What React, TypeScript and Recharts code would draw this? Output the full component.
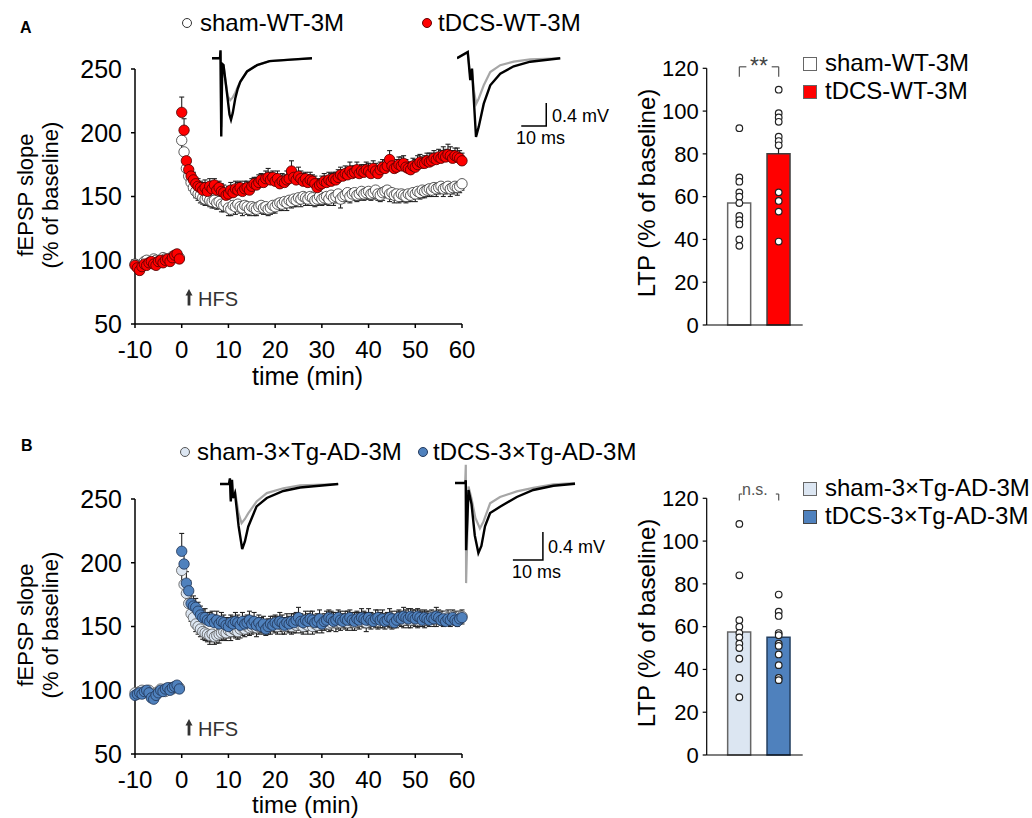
import React from "react";
import {
  Bar, Cell, ComposedChart, ErrorBar, Line, LineChart, ReferenceLine, Scatter, ScatterChart, XAxis, YAxis,
} from "recharts";

const FONT = '"Liberation Sans", Arial, Helvetica, sans-serif';

// sampling grid of the time course: baseline -10..-0.5 min, post-HFS 0..60 min, every 30 s
const BASE_START = -10;
const STEP = 0.5;
const TIME_TICKS = [-10, 0, 10, 20, 30, 40, 50, 60];
const FEPSP_TICKS = [50, 100, 150, 200, 250];
const LTP_TICKS = [0, 20, 40, 60, 80, 100, 120];

// ---- panel A time course (fEPSP slope, % of baseline) ----
const SHAM_WT_BASE = [97, 96, 95, 97, 99, 100, 98, 99, 101, 100, 99, 100, 102, 101, 100, 101, 103, 102, 104, 102];
const SHAM_WT_POST = [
  194, 185, 172, 166, 161, 157, 154, 152, 151, 149,
  148, 149, 147, 146, 147, 145, 146, 144, 143, 145,
  141, 140, 143, 142, 144, 142, 141, 143, 142, 140,
  142, 141, 140, 142, 143, 141, 142, 140, 141, 143,
  142, 144, 145, 144, 146, 145, 147, 146, 148, 147,
  149, 148, 150, 149, 148, 150, 149, 147, 148, 150,
  148, 149, 150, 148, 151, 149, 150, 152, 148, 150,
  151, 153, 150, 152, 153, 151, 152, 154, 152, 153,
  154, 152, 153, 155, 152, 151, 153, 154, 155, 152,
  153, 151, 152, 150, 152, 151, 150, 152, 151, 153,
  152, 154, 153, 155, 154, 155, 156, 155, 157, 156,
  157, 158, 156, 157, 158, 156, 157, 158, 157, 158,
  160,
];
const SHAM_WT_BASE_ERR = [3, 2, 3, 2, 2, 3, 2, 3, 2, 3, 2, 3, 2, 2, 3, 2, 3, 2, 3, 2];
const SHAM_WT_POST_ERR = [
  9, 8, 7, 6, 6, 5, 5, 5, 6, 5,
  5, 6, 5, 5, 6, 5, 5, 6, 5, 5,
  6, 5, 5, 6, 5, 5, 6, 5, 6, 5,
  5, 6, 5, 5, 6, 5, 6, 5, 5, 6,
  5, 5, 6, 5, 5, 6, 5, 5, 6, 5,
  5, 6, 5, 6, 5, 5, 6, 5, 5, 6,
  5, 5, 6, 5, 5, 6, 5, 5, 7, 5,
  5, 6, 5, 5, 6, 5, 5, 6, 5, 5,
  6, 5, 5, 6, 5, 5, 6, 5, 5, 6,
  5, 6, 5, 5, 6, 5, 5, 6, 5, 5,
  6, 5, 5, 6, 5, 5, 6, 5, 5, 6,
  5, 5, 6, 5, 5, 6, 5, 5, 6, 5,
  5,
];

const TDCS_WT_BASE = [96, 94, 92, 95, 97, 96, 98, 99, 97, 96, 99, 100, 98, 100, 101, 99, 102, 104, 105, 101];
const TDCS_WT_POST = [
  216, 202, 178, 171, 166, 163, 160, 158, 157, 155,
  157, 154, 158, 156, 159, 155, 157, 154, 153, 151,
  152, 155, 153, 156, 155, 157, 154, 156, 157, 155,
  158, 160, 159, 161, 163, 161, 164, 165, 163, 165,
  162, 164, 160, 162, 161, 163, 164, 170, 165, 163,
  166, 164, 162, 164, 161, 163, 162, 160, 157, 159,
  160, 162, 161, 163, 162, 164, 163, 165, 167, 166,
  168, 167, 170, 168, 169, 171, 168, 170, 169, 171,
  170, 168, 172, 170, 168, 171, 173, 172, 174, 179,
  174, 172, 173, 175, 174, 176, 173, 172, 171, 174,
  173, 175, 177, 176, 176, 178, 177, 178, 180, 179,
  181, 180, 182, 181, 183, 182, 180, 182, 181, 180,
  178,
];
const TDCS_WT_BASE_ERR = [3, 3, 2, 3, 2, 3, 2, 3, 3, 2, 3, 2, 3, 2, 3, 3, 2, 3, 3, 2];
const TDCS_WT_POST_ERR = [
  12, 9, 7, 6, 6, 6, 5, 6, 5, 6,
  6, 5, 6, 6, 5, 6, 5, 6, 6, 5,
  6, 6, 5, 6, 6, 5, 6, 6, 5, 6,
  6, 5, 6, 6, 5, 6, 6, 7, 6, 5,
  6, 6, 5, 6, 6, 7, 6, 8, 5, 6,
  7, 6, 6, 5, 6, 6, 5, 6, 6, 5,
  6, 6, 5, 6, 6, 5, 6, 6, 6, 5,
  6, 6, 7, 6, 5, 6, 6, 5, 6, 6,
  6, 5, 6, 6, 5, 6, 6, 6, 5, 7,
  6, 5, 6, 6, 7, 6, 6, 5, 6, 6,
  6, 7, 6, 5, 6, 6, 7, 6, 6, 5,
  6, 6, 7, 6, 8, 7, 6, 6, 7, 6,
  6,
];

// ---- panel B time course ----
const SHAM_TG_BASE = [98, 97, 99, 100, 98, 99, 100, 97, 96, 98, 99, 101, 100, 99, 101, 102, 101, 102, 103, 102];
const SHAM_TG_POST = [
  194, 183, 176, 168, 160, 157, 152, 150, 148, 146,
  145, 144, 143, 144, 142, 143, 144, 145, 146, 145,
  147, 146, 148, 147, 146, 148, 149, 148, 150, 149,
  150, 151, 149, 150, 151, 150, 149, 151, 150, 152,
  151, 150, 152, 151, 150, 152, 151, 150, 152, 151,
  153, 151, 150, 152, 151, 153, 150, 152, 151, 153,
  152, 153, 154, 152, 153, 155, 153, 154, 153, 155,
  154, 153, 155, 154, 153, 155, 154, 156, 155, 153,
  155, 154, 156, 155, 154, 156, 155, 154, 156, 155,
  154, 156, 155, 157, 156, 155, 157, 156, 155, 157,
  156, 155, 157, 156, 155, 157, 156, 158, 157, 156,
  158, 157, 156, 158, 157, 156, 158, 157, 156, 158,
  158,
];
const SHAM_TG_BASE_ERR = [3, 2, 3, 3, 2, 3, 2, 3, 3, 2, 3, 2, 3, 3, 2, 3, 2, 3, 2, 2];
const SHAM_TG_POST_ERR = [
  10, 8, 7, 7, 6, 6, 6, 6, 6, 6,
  6, 6, 7, 6, 6, 6, 7, 6, 6, 6,
  6, 7, 6, 6, 6, 7, 6, 6, 6, 6,
  6, 6, 7, 6, 6, 6, 6, 7, 6, 6,
  6, 6, 6, 7, 6, 6, 6, 6, 7, 6,
  6, 6, 6, 6, 7, 6, 6, 6, 6, 6,
  7, 6, 6, 6, 6, 6, 7, 6, 6, 6,
  6, 6, 6, 7, 6, 6, 6, 6, 6, 7,
  6, 6, 6, 6, 6, 7, 6, 6, 6, 6,
  6, 7, 6, 6, 6, 6, 6, 7, 6, 6,
  6, 6, 7, 6, 6, 6, 6, 6, 7, 6,
  6, 6, 6, 7, 6, 6, 6, 6, 6, 6,
  6,
];

const TDCS_TG_BASE = [96, 97, 98, 97, 99, 100, 98, 94, 93, 96, 98, 100, 99, 101, 102, 100, 102, 103, 104, 101];
const TDCS_TG_POST = [
  209, 199, 184, 178, 168, 166, 165, 162, 159, 157,
  157, 155, 154, 156, 153, 155, 152, 154, 153, 151,
  150, 153, 152, 154, 153, 151, 154, 152, 153, 155,
  152, 154, 151, 153, 150, 152, 148, 150, 152, 151,
  153, 152, 154, 153, 151, 153, 152, 154, 153, 155,
  157, 154, 153, 155, 154, 156, 155, 153, 154, 156,
  152, 154, 155, 157, 156, 154, 155, 157, 155, 154,
  156, 155, 157, 155, 154, 156, 155, 157, 156, 155,
  157, 155, 154, 156, 157, 155, 156, 154, 155, 157,
  156, 153, 155, 157, 156, 158, 157, 156, 158, 157,
  156, 158, 157, 155, 157, 156, 155, 157, 156, 158,
  157, 155, 156, 154, 156, 155, 157, 155, 154, 156,
  157,
];
const TDCS_TG_BASE_ERR = [3, 3, 2, 3, 3, 2, 3, 3, 2, 3, 2, 3, 3, 2, 3, 2, 3, 3, 2, 3];
const TDCS_TG_POST_ERR = [
  14, 10, 9, 8, 9, 8, 7, 7, 7, 6,
  7, 6, 7, 6, 6, 7, 6, 7, 6, 6,
  7, 6, 6, 7, 6, 6, 7, 6, 6, 7,
  6, 7, 6, 6, 7, 6, 7, 6, 6, 7,
  6, 6, 7, 6, 6, 7, 6, 6, 7, 6,
  8, 6, 6, 7, 6, 6, 7, 6, 6, 7,
  6, 6, 7, 6, 6, 7, 6, 6, 7, 6,
  6, 7, 6, 6, 7, 6, 6, 7, 6, 6,
  7, 6, 6, 7, 6, 6, 7, 6, 6, 7,
  6, 6, 7, 6, 6, 7, 6, 8, 6, 6,
  7, 6, 6, 7, 6, 6, 7, 6, 6, 7,
  6, 7, 6, 6, 7, 6, 6, 7, 6, 6,
  6,
];

// ---- LTP bar charts (% of baseline) ----
const LTP_SHAM_WT_MEAN = 57;
const LTP_TDCS_WT_MEAN = 80;
const LTP_SHAM_WT_SEM = 3;
const LTP_TDCS_WT_SEM = 5;
const LTP_SHAM_WT_PTS = [92, 69, 67, 62, 60, 57, 51, 49, 47, 40, 37];
const LTP_TDCS_WT_PTS = [110, 99, 97, 95, 88, 86, 84, 62, 58, 53, 39];

const LTP_SHAM_TG_MEAN = 57.5;
const LTP_TDCS_TG_MEAN = 55;
const LTP_SHAM_TG_SEM = 3;
const LTP_TDCS_TG_SEM = 3;
const LTP_SHAM_TG_PTS = [108, 84, 63, 60, 57, 55, 52, 50, 45, 36, 27];
const LTP_TDCS_TG_PTS = [75, 67, 65, 57, 56, 52, 51, 47, 42, 36, 35];

// ---- example fEPSP traces (t in ms, v in mV); gray = baseline, black = 60 min after HFS ----
const TR_SHAM_WT_PRE = [
  { t: 0, v: 0 }, { t: 3.2, v: 0 }, { t: 3.4, v: 0.12 }, { t: 3.7, v: -1.2 }, { t: 4.1, v: -0.1 }, { t: 4.6, v: -0.12 },
  { t: 5.4, v: -0.4 }, { t: 6.3, v: -0.66 }, { t: 7.3, v: -0.73 }, { t: 8.3, v: -0.68 }, { t: 9.3, v: -0.6 },
  { t: 10.3, v: -0.5 }, { t: 11.3, v: -0.41 }, { t: 14, v: -0.23 }, { t: 18, v: -0.12 }, { t: 23, v: -0.05 },
  { t: 33, v: -0.02 }, { t: 40, v: 0 },
];
const TR_SHAM_WT_POST = [
  { t: 0, v: 0 }, { t: 3.2, v: 0 }, { t: 3.4, v: 0.14 }, { t: 3.7, v: -1.36 }, { t: 4.1, v: -0.1 }, { t: 4.6, v: -0.12 },
  { t: 5.4, v: -0.4 }, { t: 6.3, v: -0.72 }, { t: 7.0, v: -0.98 }, { t: 7.6, v: -1.07 }, { t: 8.3, v: -0.95 },
  { t: 9.3, v: -0.7 }, { t: 10.3, v: -0.53 }, { t: 11.3, v: -0.41 }, { t: 14, v: -0.23 }, { t: 18, v: -0.12 },
  { t: 23, v: -0.05 }, { t: 33, v: -0.02 }, { t: 40, v: 0 },
];
const TR_TDCS_WT_PRE = [
  { t: 0, v: 0 }, { t: 4.3, v: 0.1 }, { t: 5.3, v: -0.3 }, { t: 6.0, v: -0.2 }, { t: 6.7, v: -0.55 }, { t: 7.7, v: -0.79 },
  { t: 8.7, v: -0.7 }, { t: 10.7, v: -0.47 }, { t: 13.3, v: -0.24 }, { t: 17.3, v: -0.12 }, { t: 22.7, v: -0.06 },
  { t: 29.3, v: -0.02 }, { t: 41.3, v: 0 },
];
const TR_TDCS_WT_POST = [
  { t: 0, v: 0 }, { t: 4.3, v: 0.11 }, { t: 5.3, v: -0.38 }, { t: 6.0, v: -0.18 }, { t: 6.7, v: -0.7 }, { t: 7.6, v: -1.37 },
  { t: 8.7, v: -1.19 }, { t: 10.7, v: -0.79 }, { t: 13.3, v: -0.47 }, { t: 17.3, v: -0.27 }, { t: 22.7, v: -0.14 },
  { t: 29.3, v: -0.06 }, { t: 41.3, v: 0 },
];
const TR_SHAM_TG_PRE = [
  { t: 0, v: 0 }, { t: 3.0, v: 0 }, { t: 3.3, v: 0.06 }, { t: 3.6, v: -0.22 }, { t: 4.0, v: 0.04 }, { t: 4.3, v: -0.15 },
  { t: 5.0, v: -0.1 }, { t: 6.2, v: -0.42 }, { t: 7.2, v: -0.56 }, { t: 8.3, v: -0.5 }, { t: 9.4, v: -0.42 },
  { t: 12.2, v: -0.25 }, { t: 15.6, v: -0.13 }, { t: 21.1, v: -0.06 }, { t: 26.7, v: -0.02 }, { t: 39.4, v: 0 },
];
const TR_SHAM_TG_POST = [
  { t: 0, v: 0 }, { t: 3.0, v: 0 }, { t: 3.3, v: 0.08 }, { t: 3.6, v: -0.25 }, { t: 4.0, v: 0.06 }, { t: 4.3, v: -0.2 },
  { t: 5.0, v: -0.13 }, { t: 6.2, v: -0.6 }, { t: 7.4, v: -0.93 }, { t: 8.3, v: -0.82 }, { t: 9.4, v: -0.61 },
  { t: 12.2, v: -0.32 }, { t: 15.6, v: -0.2 }, { t: 21.1, v: -0.1 }, { t: 26.7, v: -0.05 }, { t: 39.4, v: 0 },
];
const TR_TDCS_TG_PRE = [
  { t: 0, v: 0 }, { t: 3.4, v: 0 }, { t: 3.6, v: 0.26 }, { t: 3.7, v: -1.43 }, { t: 4.5, v: -0.05 }, { t: 5.5, v: -0.22 },
  { t: 6.8, v: -0.5 }, { t: 8.3, v: -0.65 }, { t: 9.5, v: -0.55 }, { t: 11.7, v: -0.29 }, { t: 15, v: -0.2 },
  { t: 20.6, v: -0.12 }, { t: 26.1, v: -0.07 }, { t: 32.8, v: -0.02 }, { t: 40, v: 0 },
];
const TR_TDCS_TG_POST = [
  { t: 0, v: 0 }, { t: 3.4, v: 0 }, { t: 3.6, v: 0.04 }, { t: 3.7, v: -0.96 }, { t: 4.5, v: -0.1 }, { t: 5.5, v: -0.3 },
  { t: 6.6, v: -0.75 }, { t: 7.8, v: -1.0 }, { t: 8.8, v: -0.9 }, { t: 10, v: -0.62 }, { t: 11.7, v: -0.43 },
  { t: 15, v: -0.34 }, { t: 20.6, v: -0.2 }, { t: 26.1, v: -0.1 }, { t: 32.8, v: -0.04 }, { t: 40, v: -0.01 },
];
// calibration bars: 10 ms horizontal, 0.4 mV vertical
const SCALE_A = [{ t: 25.7, v: -1.18 }, { t: 35.7, v: -1.18 }, { t: 35.7, v: -0.78 }];
const SCALE_B = [{ t: 19.3, v: -1.1 }, { t: 29.3, v: -1.1 }, { t: 29.3, v: -0.7 }];

const BAR_SLOTS = [34, 75]; // bar centres on a 0..100 x scale

function toPoints(base: number[], post: number[], baseErr: number[], postErr: number[], up: boolean) {
  const vals = [...base, ...post];
  const errs = [...baseErr, ...postErr];
  return vals.map((y, i) => ({ t: BASE_START + i * STEP, y, e: up ? [0, errs[i]] : [errs[i], 0] }));
}

const dot = (fill: string, stroke: string, r: number, sw: number) => (p: any) =>
  <circle cx={p.cx} cy={p.cy} r={r} fill={fill} stroke={stroke} strokeWidth={sw} />;

function Txt({ x, y, size, children, color = "#000", weight = 400, lh = 1.2 }: any) {
  return (
    <div style={{
      position: "absolute", left: x, top: y - (size * lh) / 2, fontSize: size, lineHeight: `${size * lh}px`,
      whiteSpace: "nowrap", color, fontWeight: weight,
    }}>{children}</div>
  );
}

function VLabel({ cx, cy, size, lines, lh }: any) {
  const w = 320;
  const h = lines.length * lh;
  return (
    <div style={{
      position: "absolute", left: cx - w / 2, top: cy - h / 2, width: w, height: h, transform: "rotate(-90deg)",
      textAlign: "center", fontSize: size, lineHeight: `${lh}px`, whiteSpace: "nowrap",
    }}>
      {lines.map((l: string) => <div key={l}>{l}</div>)}
    </div>
  );
}

function LegendDot({ x, y, fill, stroke }: any) {
  return (
    <svg style={{ position: "absolute", left: x - 6, top: y - 6 }} width={12} height={12}>
      <circle cx={6} cy={6} r={4.5} fill={fill} stroke={stroke} strokeWidth={1} />
    </svg>
  );
}

function LegendBox({ x, y, fill, stroke }: any) {
  return <div style={{ position: "absolute", left: x, top: y, width: 12, height: 12, background: fill, border: `1px solid ${stroke}` }} />;
}

function TimeCourse({ top, sham, tdcs, shamFill, shamStroke, tdcsFill, tdcsStroke }: any) {
  const axis = { stroke: "#000", strokeWidth: 1.5 };
  return (
    <div style={{ position: "absolute", left: 0, top }}>
      <ScatterChart width={480} height={330} margin={{ top: 19, right: 18, bottom: 0, left: 0 }}>
        <XAxis type="number" dataKey="t" domain={[-10, 60]} ticks={TIME_TICKS} interval={0} height={56}
          axisLine={axis} tickLine={axis} tickSize={4} tickMargin={13}
          tick={{ fill: "#000", fontSize: 24, fontFamily: FONT }} />
        <YAxis type="number" dataKey="y" domain={[50, 250]} ticks={FEPSP_TICKS} interval={0} width={135}
          axisLine={axis} tickLine={axis} tickSize={4} tickMargin={9}
          tick={{ fill: "#000", fontSize: 25, fontFamily: FONT }} />
        <Scatter data={sham} dataKey="y" shape={dot(shamFill, shamStroke, 5.2, 0.8)} isAnimationActive={false}>
          <ErrorBar dataKey="e" direction="y" width={2.5} stroke="#222" strokeWidth={1.1} isAnimationActive={false} />
        </Scatter>
        <Scatter data={tdcs} dataKey="y" shape={dot(tdcsFill, tdcsStroke, 5.2, 0.8)} isAnimationActive={false}>
          <ErrorBar dataKey="e" direction="y" width={2.5} stroke="#222" strokeWidth={1.1} isAnimationActive={false} />
        </Scatter>
      </ScatterChart>
    </div>
  );
}

function LtpBars({ top, means, sems, shamPts, tdcsPts, fills, strokes, bracket }: any) {
  const data = means.map((m: number, i: number) => ({ x: BAR_SLOTS[i], mean: m, e: [0, sems[i]] }));
  const pts = [
    ...shamPts.map((y: number) => ({ x: BAR_SLOTS[0], y })),
    ...tdcsPts.map((y: number) => ({ x: BAR_SLOTS[1], y })),
  ];
  const axis = { stroke: "#000", strokeWidth: 1.2 };
  const br = { stroke: "#555", strokeWidth: 1.2, ifOverflow: "visible" as const };
  return (
    <div style={{ position: "absolute", left: 620, top }}>
      <ComposedChart width={190} height={305} data={data} margin={{ top: 28.3, right: 7.3, bottom: 0, left: 0 }}>
        <XAxis type="number" dataKey="x" domain={[0, 100]} ticks={[0, 100]} tick={false} tickLine={false}
          axisLine={axis} height={20} />
        <YAxis type="number" domain={[0, 120]} ticks={LTP_TICKS} interval={0} width={86.7}
          axisLine={axis} tickLine={axis} tickSize={4} tickMargin={4}
          tick={{ fill: "#000", fontSize: 22, fontFamily: FONT }} />
        <Bar dataKey="mean" barSize={23} isAnimationActive={false}>
          {data.map((_: any, i: number) => <Cell key={i} fill={fills[i]} stroke={strokes[i]} strokeWidth={1.5} />)}
          <ErrorBar dataKey="e" direction="y" width={0} stroke="#222" strokeWidth={1.2} isAnimationActive={false} />
        </Bar>
        <Scatter data={pts} dataKey="y" shape={dot("#fff", "#222", 3.3, 1.2)} isAnimationActive={false} />
        <ReferenceLine {...br} segment={[{ x: BAR_SLOTS[0], y: bracket.top }, { x: BAR_SLOTS[0] + bracket.arm, y: bracket.top }]} />
        <ReferenceLine {...br} segment={[{ x: BAR_SLOTS[0], y: bracket.top }, { x: BAR_SLOTS[0], y: bracket.low }]} />
        <ReferenceLine {...br} segment={[{ x: BAR_SLOTS[1] - bracket.arm, y: bracket.top }, { x: BAR_SLOTS[1], y: bracket.top }]} />
        <ReferenceLine {...br} segment={[{ x: BAR_SLOTS[1], y: bracket.top }, { x: BAR_SLOTS[1], y: bracket.low }]} />
      </ComposedChart>
    </div>
  );
}

function Trace({ left, top, width, height, xDomain, yDomain, pre, post, scale }: any) {
  return (
    <div style={{ position: "absolute", left, top }}>
      <LineChart width={width} height={height} margin={{ top: 0, right: 0, bottom: 0, left: 0 }}>
        <XAxis type="number" dataKey="t" domain={xDomain} hide />
        <YAxis type="number" dataKey="v" domain={yDomain} hide />
        <Line data={pre} dataKey="v" stroke="#a6a6a6" strokeWidth={2.2} dot={false} isAnimationActive={false} />
        <Line data={post} dataKey="v" stroke="#000" strokeWidth={2.4} dot={false} isAnimationActive={false} />
        {scale && <Line data={scale} dataKey="v" stroke="#000" strokeWidth={1.5} dot={false} isAnimationActive={false} />}
      </LineChart>
    </div>
  );
}

function Hfs({ top }: any) {
  return (
    <>
      <svg style={{ position: "absolute", left: 184, top: top - 10 }} width={10} height={18}>
        <polygon points="5,0 1.5,6.5 8.5,6.5" fill="#333" />
        <rect x={3.6} y={5} width={2.8} height={11.5} fill="#333" />
      </svg>
      <Txt x={198} y={top} size={20} color="#333">HFS</Txt>
    </>
  );
}

export default function App() {
  const shamWT = toPoints(SHAM_WT_BASE, SHAM_WT_POST, SHAM_WT_BASE_ERR, SHAM_WT_POST_ERR, false);
  const tdcsWT = toPoints(TDCS_WT_BASE, TDCS_WT_POST, TDCS_WT_BASE_ERR, TDCS_WT_POST_ERR, true);
  const shamTG = toPoints(SHAM_TG_BASE, SHAM_TG_POST, SHAM_TG_BASE_ERR, SHAM_TG_POST_ERR, false);
  const tdcsTG = toPoints(TDCS_TG_BASE, TDCS_TG_POST, TDCS_TG_BASE_ERR, TDCS_TG_POST_ERR, true);
  const LIGHT = "#dce6f2";
  const BLUE = "#4f81bd";
  return (
    <div style={{
      position: "absolute", left: 0, top: 0, width: 1032, height: 818, background: "#fff",
      fontFamily: FONT, color: "#000", overflow: "hidden",
    }}>
      {/* ---------- A ---------- */}
      <Txt x={20} y={28} size={16} weight={700}>A</Txt>
      <LegendDot x={186.7} y={23} fill="#fff" stroke="#333" />
      <Txt x={200} y={23} size={24}>sham-WT-3M</Txt>
      <LegendDot x={426.7} y={23} fill="#ff0000" stroke="#600" />
      <Txt x={438} y={23} size={24}>tDCS-WT-3M</Txt>

      <TimeCourse top={50} sham={shamWT} tdcs={tdcsWT} shamFill="#fff" shamStroke="#333" tdcsFill="#ff0000" tdcsStroke="#4a0000" />
      <VLabel cx={37.5} cy={195} size={22} lh={25} lines={["fEPSP slope", "(% of baseline)"]} />
      <Txt x={252} y={377} size={25} lh={0.95}>time (min)</Txt>
      <Hfs top={299} />

      <Trace left={211.7} top={41} width={100} height={103.5} xDomain={[0, 40]} yDomain={[-1.5, 0.3]}
        pre={TR_SHAM_WT_PRE} post={TR_SHAM_WT_POST} />
      <Trace left={456.7} top={40.75} width={105} height={103.5} xDomain={[0, 42]} yDomain={[-1.5, 0.3]}
        pre={TR_TDCS_WT_PRE} post={TR_TDCS_WT_POST} scale={SCALE_A} />
      <Txt x={552} y={117} size={18}>0.4 mV</Txt>
      <Txt x={516} y={139} size={18}>10 ms</Txt>

      <LtpBars top={40} means={[LTP_SHAM_WT_MEAN, LTP_TDCS_WT_MEAN]} sems={[LTP_SHAM_WT_SEM, LTP_TDCS_WT_SEM]}
        shamPts={LTP_SHAM_WT_PTS} tdcsPts={LTP_TDCS_WT_PTS} fills={["#fff", "#ff0000"]} strokes={["#666", "#404040"]}
        bracket={{ top: 120.7, low: 116.1, arm: 7.3 }} />
      <VLabel cx={646.7} cy={193} size={24} lh={28} lines={["LTP (% of baseline)"]} />
      <Txt x={750} y={67} size={23} color="#444">**</Txt>
      <LegendBox x={803} y={56.5} fill="#fff" stroke="#666" />
      <Txt x={825} y={63.3} size={24}>sham-WT-3M</Txt>
      <LegendBox x={803} y={85} fill="#ff0000" stroke="#666" />
      <Txt x={825} y={91.7} size={24}>tDCS-WT-3M</Txt>

      {/* ---------- B ---------- */}
      <Txt x={21} y={446} size={16} weight={700}>B</Txt>
      <LegendDot x={185} y={452} fill={LIGHT} stroke="#555" />
      <Txt x={197} y={452} size={24}>sham-3×Tg-AD-3M</Txt>
      <LegendDot x={422.7} y={452} fill={BLUE} stroke="#23395d" />
      <Txt x={433} y={452} size={24}>tDCS-3×Tg-AD-3M</Txt>

      <TimeCourse top={480} sham={shamTG} tdcs={tdcsTG} shamFill={LIGHT} shamStroke="#555" tdcsFill={BLUE} tdcsStroke="#1f3354" />
      <VLabel cx={37.5} cy={625} size={22} lh={25} lines={["fEPSP slope", "(% of baseline)"]} />
      <Txt x={252} y={805} size={24} lh={0.95}>time (min)</Txt>
      <Hfs top={729} />

      <Trace left={220} top={456} width={120} height={140} xDomain={[0, 40]} yDomain={[-1.6, 0.4]}
        pre={TR_SHAM_TG_PRE} post={TR_SHAM_TG_POST} />
      <Trace left={455} top={455} width={123} height={140} xDomain={[0, 41]} yDomain={[-1.6, 0.4]}
        pre={TR_TDCS_TG_PRE} post={TR_TDCS_TG_POST} scale={SCALE_B} />
      <Txt x={548} y={548} size={18}>0.4 mV</Txt>
      <Txt x={512} y={573} size={18}>10 ms</Txt>

      <LtpBars top={470} means={[LTP_SHAM_TG_MEAN, LTP_TDCS_TG_MEAN]} sems={[LTP_SHAM_TG_SEM, LTP_TDCS_TG_SEM]}
        shamPts={LTP_SHAM_TG_PTS} tdcsPts={LTP_TDCS_TG_PTS} fills={[LIGHT, BLUE]} strokes={["#666", "#243f60"]}
        bracket={{ top: 122, low: 119, arm: 3 }} />
      <VLabel cx={646.7} cy={623} size={24} lh={28} lines={["LTP (% of baseline)"]} />
      <Txt x={742} y={490} size={16} color="#555">n.s.</Txt>
      <LegendBox x={803} y={482} fill={LIGHT} stroke="#666" />
      <Txt x={825} y={488.5} size={24}>sham-3×Tg-AD-3M</Txt>
      <LegendBox x={803} y={510} fill={BLUE} stroke="#444" />
      <Txt x={825} y={516.5} size={24}>tDCS-3×Tg-AD-3M</Txt>
    </div>
  );
}
